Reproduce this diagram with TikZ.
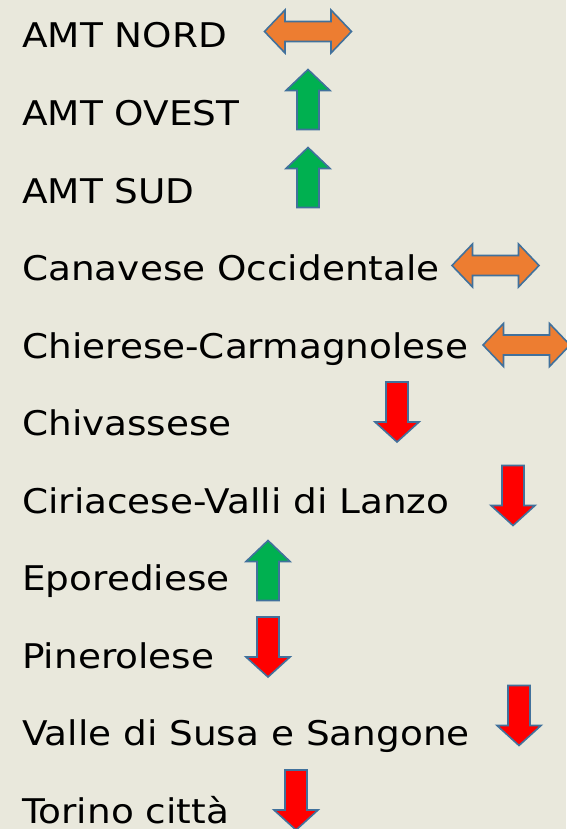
\documentclass[tikz,border=0pt]{standalone}
\usepackage{fontspec}
\setmainfont[FakeStretch=1.1]{DejaVu Sans}
\definecolor{paper}{RGB}{233,232,220}
\definecolor{upgreen}{RGB}{0,176,80}
\definecolor{downred}{RGB}{255,0,0}
\definecolor{sideorange}{RGB}{237,125,49}
\definecolor{edgeblue}{RGB}{65,113,156}
\tikzset{
	area/.style={anchor=base west,inner sep=0pt,font=\fontsize{34}{40}\selectfont},
	arrowline/.style={draw=edgeblue,line width=1.6pt,line join=miter},
	pics/uparr/.style={code={
		\draw[arrowline,fill=upgreen] (-11,30) -- (-11,-9) -- (-22,-9) -- (0,-30) -- (22,-9) -- (11,-9) -- (11,30) -- cycle;}},
	pics/downarr/.style={code={
		\draw[arrowline,fill=downred] (-11,-30) -- (-11,10) -- (-22,10) -- (0,30) -- (22,10) -- (11,10) -- (11,-30) -- cycle;}},
	pics/siderarr/.style={code={
		\draw[arrowline,fill=sideorange] (-23,-10) -- (23,-10) -- (23,-21.5) -- (43.5,0) -- (23,21.5) -- (23,10) -- (-23,10) -- (-23,21.5) -- (-43.5,0) -- (-23,-21.5) -- cycle;}}
}
\begin{document}
\begin{tikzpicture}[x=1pt,y=-1pt]
	% background
	\fill[paper] (0,0) rectangle (566,829);
	\useasboundingbox (0,0) rectangle (566,829);
	% areas
	\node[area] (nord) at (22,48) {AMT NORD};
	\node[area] (ovest) at (22,125.5) {AMT OVEST};
	\node[area] (sud) at (22,203) {AMT SUD};
	\node[area] (canavese) at (22,280.5) {Canavese Occidentale};
	\node[area] (chierese) at (22,358) {Chierese-Carmagnolese};
	\node[area] (chivassese) at (22,435.5) {Chivassese};
	\node[area] (ciriacese) at (22,513) {Ciriacese-Valli di Lanzo};
	\node[area] (eporediese) at (22,590.5) {Eporediese};
	\node[area] (pinerolese) at (22,668) {Pinerolese};
	\node[area] (susa) at (22,745.5) {Valle di Susa e Sangone};
	\node[area] (torino) at (22,823) {Torino città};
	% trends
	\pic (nordarr) at (308,31.5) {siderarr};
	\pic (ovestarr) at (308,99.5) {uparr};
	\pic (sudarr) at (308,177.5) {uparr};
	\pic (canavesearr) at (495.5,265.5) {siderarr};
	\pic (chiereseearr) at (526.5,345) {siderarr};
	\pic (chivassesearr) at (397,412) {downarr};
	\pic (ciriacesearr) at (513,495.5) {downarr};
	\pic (eporediesearr) at (268,570.5) {uparr};
	\pic (pinerolesearr) at (268,647) {downarr};
	\pic (susaarr) at (519,715.5) {downarr};
	\pic (torinoarr) at (296,800) {downarr};
\end{tikzpicture}
\end{document}
